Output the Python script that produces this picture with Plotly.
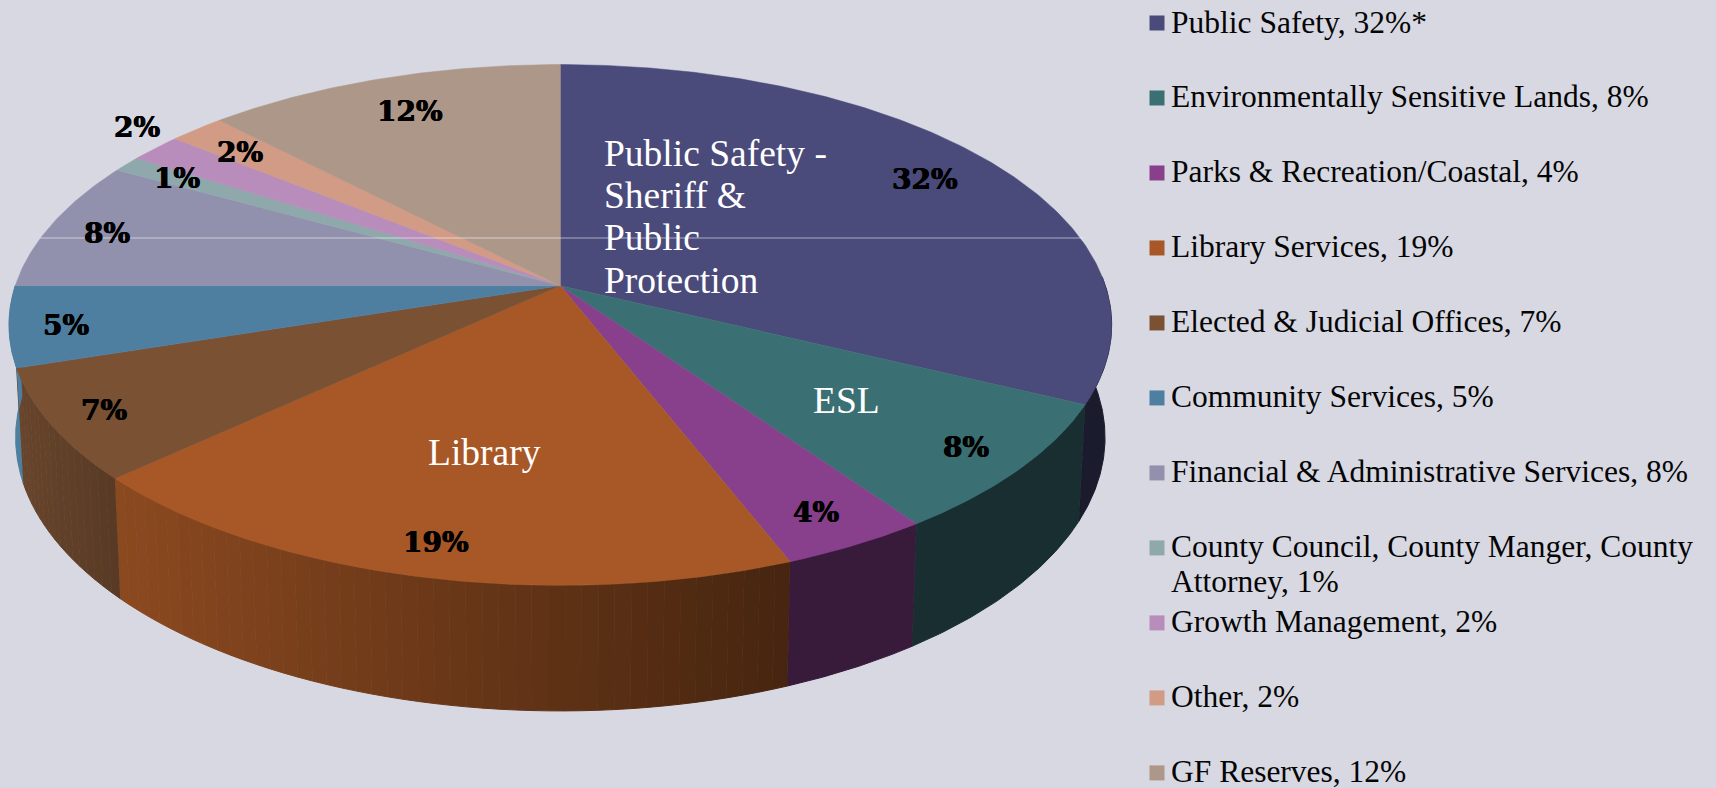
import numpy as np
import plotly.graph_objects as go

# ---- data ----
categories = ["Public Safety", "Environmentally Sensitive Lands", "Parks & Recreation/Coastal",
              "Library Services", "Elected & Judicial Offices", "Community Services",
              "Financial & Administrative Services", "County Council, County Manger, County Attorney",
              "Growth Management", "Other", "GF Reserves"]
# shares; the picture labels them rounded to whole percents
values = [32.2, 8.1, 3.8, 19.0, 6.9, 5.0, 8.1, 1.0, 1.8, 1.9, 12.2]
legend_labels = ["Public Safety, 32%*", "Environmentally Sensitive Lands, 8%",
                 "Parks & Recreation/Coastal, 4%", "Library Services, 19%",
                 "Elected & Judicial Offices, 7%", "Community Services, 5%",
                 "Financial & Administrative Services, 8%",
                 "County Council, County Manger, County<br>Attorney, 1%",
                 "Growth Management, 2%", "Other, 2%", "GF Reserves, 12%"]
colors = ["#4A4A7B", "#3A7074", "#88408D", "#A85826", "#7A5133", "#4E7FA1",
          "#9191AE", "#8FA8AB", "#B98DBB", "#D19B85", "#AD9788"]
# wall shading factor at the start and end of each slice wall (left-to-right in screen x)
wall_shade = [(.37, .37), (.41, .41), (.41, .41), (.42, .83), (.72, .85), (1.0, 1.0),
              None, None, None, None, None]
pct_pos = [(925, 179), (966, 447), (816, 512), (436, 542), (104, 410), (66, 325),
           (107, 233), (177, 178), (137, 127), (240, 152), (410, 111)]
callouts = [("Public Safety -", 602, 153), ("Sheriff &", 602, 195), ("Public", 602, 237),
            ("Protection", 602, 280), ("ESL", 846, 400), ("Library", 484, 452)]

BG = "#D7D8E2"
W, H = 1716, 788
S = 1716 / 1568
CX, CY, R, B, K = 512 * S, 261 * S, 498 * S, -193.1 * S, 0.151


def top(a):
    """perspective projection of the unit-circle angle a (deg, clockwise from 12 o'clock)"""
    a = np.radians(a)
    u, v = np.sin(a), np.cos(a)
    d = 1 + K * v
    return CX + R * u / d, (CY + B * v) / d


def rim(a):
    x, y = top(a)
    return CX + (x - CX) * 0.988, y + 103 * S + (y - 300 * S) * 0.05


def shade(hex_color, f):
    r, g, b = (int(hex_color[i:i + 2], 16) for i in (1, 3, 5))
    return f"rgb({round(r * f)},{round(g * f)},{round(b * f)})"


fig = go.Figure()
edges = np.concatenate([[0], np.cumsum(values)]) * 360 / sum(values)

# side walls
for i, sh in enumerate(wall_shade):
    if sh is None:
        continue
    a0, a1 = edges[i], edges[i + 1]
    a0 = max(a0, 88)
    n = 1 if sh[0] == sh[1] else int((a1 - a0) / 1.5) + 1
    if n == 1:
        ang = np.linspace(a0, a1, 60)
        xt, yt = top(ang)
        xb, yb = rim(ang)
        fig.add_trace(go.Scatter(x=np.r_[xt, xb[::-1]], y=np.r_[yt, yb[::-1]], mode="lines", fill="toself",
                                 fillcolor=shade(colors[i], sh[0]), line=dict(color=shade(colors[i], sh[0]), width=1),
                                 hoverinfo="skip", showlegend=False))
    else:
        steps = np.linspace(a0, a1, n + 1)
        xs0 = top(a1)[0]
        xs1 = top(a0)[0]
        for s0, s1 in zip(steps[:-1], steps[1:]):
            ang = np.linspace(s0, s1, 4)
            xt, yt = top(ang)
            xb, yb = rim(ang)
            t = (xt.mean() - xs0) / (xs1 - xs0)
            c = shade(colors[i], sh[1] + (sh[0] - sh[1]) * t)
            fig.add_trace(go.Scatter(x=np.r_[xt, xb[::-1]], y=np.r_[yt, yb[::-1]], mode="lines", fill="toself",
                                     fillcolor=c, line=dict(color=c, width=1), hoverinfo="skip", showlegend=False))

# top faces
for i, name in enumerate(categories):
    ang = np.linspace(edges[i], edges[i + 1], max(int(values[i] * 6), 6))
    xt, yt = top(ang)
    fig.add_trace(go.Scatter(x=np.r_[CX, xt, CX], y=np.r_[CY, yt, CY], mode="lines", fill="toself",
                             fillcolor=colors[i], line=dict(color=colors[i], width=0.5),
                             name=name, hovertemplate=f"{name}: {round(values[i])}%<extra></extra>", showlegend=False))

# faint horizontal line across the pie
fig.add_trace(go.Scatter(x=[40, 1083], y=[238, 238], mode="lines",
                         line=dict(color="rgba(255,255,255,0.55)", width=1), hoverinfo="skip", showlegend=False))

# legend
lx, ly0, pitch = 1157, 23, 74.99
fig.add_trace(go.Scatter(x=[lx] * len(categories), y=[ly0 + pitch * i for i in range(len(categories))],
                         mode="markers", marker=dict(symbol="square", size=15, color=colors, line=dict(width=0)),
                         hoverinfo="skip", showlegend=False))
anns = []
for i, t in enumerate(legend_labels):
    for j, l in enumerate(t.split("<br>")):
        anns.append(dict(x=1169, y=ly0 - 1 + pitch * i + 34.5 * j, text=l, xanchor="left", yanchor="middle",
                         showarrow=False,
                         font=dict(family="Liberation Serif", size=31.5, color="#050505")))
for v, (x, y) in zip(values, pct_pos):
    anns.append(dict(x=x, y=y, text=f"<b>{round(v)}%</b>", xanchor="center", yanchor="middle", showarrow=False,
                     font=dict(family="DejaVu Serif", size=28, color="#000000",
                               shadow="0.5px 0 0 #000, -0.5px 0 0 #000")))
for t, x, y in callouts:
    anns.append(dict(x=x, y=y, text=t, xanchor="left" if x == 602 else "center", yanchor="middle", showarrow=False,
                     font=dict(family="Liberation Serif", size=37.5, color="#FFFFFF")))

fig.update_layout(width=W, height=H, autosize=False, margin=dict(l=0, r=0, t=0, b=0),
                  paper_bgcolor=BG, plot_bgcolor=BG, annotations=anns, showlegend=False,
                  xaxis=dict(range=[0, W], visible=False, fixedrange=True),
                  yaxis=dict(range=[H, 0], visible=False, fixedrange=True))
fig.write_html("out.html", config=dict(displayModeBar=False),
               post_script="document.body.style.margin='0';document.body.style.background='%s';" % BG)
